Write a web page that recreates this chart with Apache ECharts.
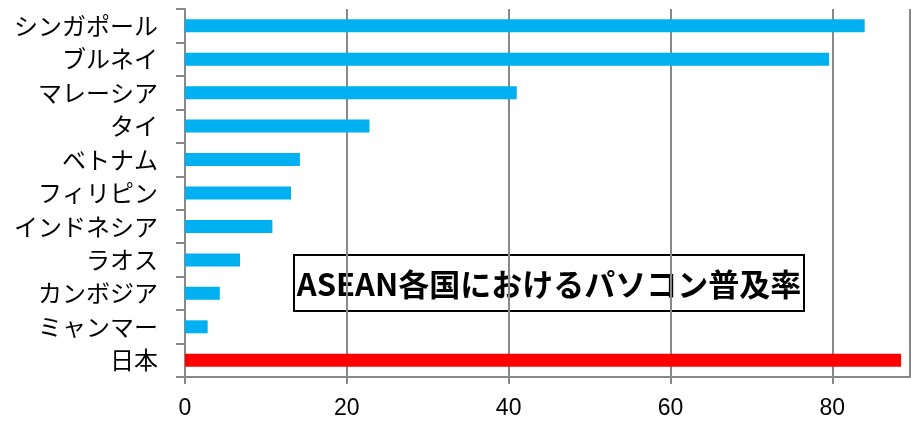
<!DOCTYPE html>
<html><head><meta charset="utf-8">
<script src="https://cdn.jsdelivr.net/npm/echarts@6/dist/echarts.min.js"></script>
<style>html,body{margin:0;padding:0;background:#fff}#c{width:911px;height:422px}</style>
</head><body><div id="c"></div>
<script>
const categories = ["シンガポール","ブルネイ","マレーシア","タイ","ベトナム","フィリピン","インドネシア","ラオス","カンボジア","ミャンマー","日本"];
const values = [84.0, 79.6, 41.0, 22.8, 14.2, 13.1, 10.8, 6.8, 4.3, 2.8, 88.5];
const highlight = "日本";
const titleText = "ASEAN各国におけるパソコン普及率";
const xTicks = {min: 0, max: 89.6, interval: 20};

const chart = echarts.init(document.getElementById('c'));
const axisGray = '#888888';
chart.setOption({
  animation: false,
  grid: {left: 185, right: 1, top: 9, bottom: 45, containLabel: false},
  xAxis: {
    type: 'value', min: xTicks.min, max: xTicks.max, interval: xTicks.interval,
    axisLine: {show: true, lineStyle: {color: axisGray, width: 2}},
    axisTick: {show: true, length: 7, lineStyle: {color: axisGray, width: 2}},
    splitLine: {show: true, lineStyle: {color: axisGray, width: 2}},
    axisLabel: {color: '#000', fontSize: 23, margin: 20, showMaxLabel: false,
      fontFamily: 'Liberation Sans, sans-serif'}
  },
  yAxis: {
    type: 'category', data: categories, inverse: true,
    axisLine: {show: true, lineStyle: {color: axisGray, width: 2}},
    axisTick: {show: true, length: 9, alignWithLabel: false, lineStyle: {color: axisGray, width: 2}},
    axisLabel: {color: '#000', fontSize: 24, margin: 27, fontFamily: '"Noto Sans CJK JP", sans-serif'}
  },
  series: [{
    type: 'bar', barWidth: 13,
    data: categories.map((c, i) => ({
      value: values[i],
      itemStyle: {color: c === highlight ? '#FF0000' : '#00B0F0'}
    }))
  }],
  graphic: [{
    type: 'group', left: 293, top: 254,
    children: [
      {type: 'rect', shape: {x: 0, y: 0, width: 510, height: 56},
        style: {fill: '#fff', stroke: '#000', lineWidth: 2}},
      {type: 'text', x: 255, y: 29,
        style: {text: titleText, fill: '#000', font: 'bold 31px "Noto Sans CJK JP", sans-serif',
          textAlign: 'center', textVerticalAlign: 'middle'}}
    ]
  }]
});
</script></body></html>
